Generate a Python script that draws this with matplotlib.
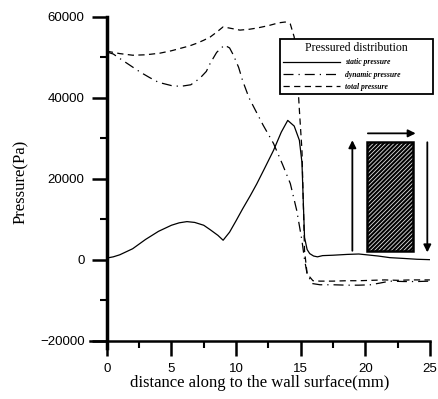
import matplotlib.pyplot as plt
from matplotlib.patches import Rectangle

# static pressure
static_x = [0, 0.5, 1.0, 2.0, 3.0, 4.0, 5.0, 5.6, 6.2, 6.8, 7.5, 8.0, 8.6, 9.0, 9.5,
            10.0, 10.5, 11.1, 11.6, 12.2, 12.9, 13.5, 14.0, 14.5, 14.9, 15.1, 15.2,
            15.3, 15.5, 15.7, 16.0, 16.3, 16.7, 17.5, 18.6, 19.5, 20.1, 21.0, 21.9,
            23.0, 24.0, 25.0]
static_y = [400, 700, 1200, 2700, 5000, 7000, 8500, 9100, 9400, 9200, 8500, 7400,
            6000, 4800, 6800, 9600, 12500, 15800, 18700, 22500, 27000, 31500, 34400,
            33000, 29500, 24000, 14600, 5500, 2500, 1500, 900, 700, 1000, 1100, 1300,
            1400, 1200, 900, 500, 300, 100, 0]

# dynamic pressure
dyn_x = [0, 0.5, 1.0, 1.8, 2.6, 3.3, 4.0, 5.0, 5.7, 6.5, 7.2, 7.7, 8.0, 8.5, 9.1,
         9.5, 9.8, 10.2, 10.5, 11.0, 11.5, 12.1, 12.9, 13.6, 14.2, 14.7, 15.1, 15.3,
         15.5, 15.9, 16.5, 17.5, 18.6, 19.5, 20.4, 21.1, 21.9, 23.0, 24.0, 25.0]
dyn_y = [51300, 50800, 49700, 48000, 46300, 45000, 43800, 43000, 42800, 43200, 44800,
         46500, 48500, 51200, 53000, 52300, 50500, 47500, 44300, 40000, 36900, 33200,
         28700, 23500, 18800, 12100, 4700, 0, -3500, -5900, -6200, -6200, -6300, -6300,
         -6200, -5800, -5300, -5400, -5400, -5300]

# total pressure
tot_x = [0, 0.5, 1.0, 2.0, 3.0, 4.1, 5.0, 5.7, 6.4, 7.0, 7.5, 8.0, 8.5, 9.0, 9.5,
         10.3, 11.0, 11.6, 12.5, 13.3, 13.8, 14.2, 14.5, 14.7, 14.9, 15.1, 15.2, 15.3,
         15.5, 15.95, 16.5, 17.5, 18.6, 19.5, 20.5, 21.5, 22.5, 23.5, 25.0]
tot_y = [51500, 51200, 50900, 50500, 50600, 51000, 51600, 52200, 52800, 53500, 54200,
         55000, 56200, 57500, 57200, 56700, 56900, 57200, 57800, 58500, 58700, 58200,
         55000, 48000, 37000, 27000, 14600, 2200, -3500, -5200, -5300, -5300, -5200,
         -5200, -5100, -5000, -5100, -5000, -5000]

labels = ['static pressure', 'dynamic pressure', 'total pressure']

# inset sketch: wall block and flow arrows
block = (20.1, 2200, 3.6, 26800)          # x, y, width, height
arrow_up = ((19.0, 2200), (19.0, 29500))
arrow_right = ((20.2, 31200), (23.9, 31200))
arrow_down = ((24.8, 29000), (24.8, 1800))

plt.rcParams['hatch.linewidth'] = 0.6

fig = plt.figure(figsize=(4.38, 3.99), dpi=100)
ax = fig.add_axes([0.2055, 0.128, 0.776, 0.83])

ax.plot(static_x, static_y, color='black', lw=0.9, label=labels[0])
ax.plot(dyn_x, dyn_y, color='black', lw=0.9, dashes=(8, 4, 1, 4), label=labels[1])
ax.plot(tot_x, tot_y, color='black', lw=0.9, dashes=(5, 3.5), label=labels[2])

ax.add_patch(Rectangle(block[:2], block[2], block[3], facecolor='black',
                       edgecolor='#e0e0e0', hatch='////////', lw=0))
ax.add_patch(Rectangle(block[:2], block[2], block[3], fill=False,
                       edgecolor='black', lw=1.8))
for (x0, y0), (x1, y1) in (arrow_up, arrow_right, arrow_down):
    ax.annotate('', xy=(x1, y1), xytext=(x0, y0),
                arrowprops=dict(arrowstyle='-|>', color='black', lw=1.3,
                                mutation_scale=11, shrinkA=0, shrinkB=0))

ax.set_xlim(-1.3, 25)
ax.set_ylim(-21800, 60000)
ax.spines['top'].set_visible(False)
ax.spines['right'].set_visible(False)
ax.spines['left'].set_position(('data', 0))
ax.spines['bottom'].set_position(('data', -20000))
ax.spines['left'].set_linewidth(2.5)
ax.spines['bottom'].set_linewidth(1.8)

ax.set_xticks([0, 5, 10, 15, 20, 25])
ax.set_xticks([2.5, 7.5, 12.5, 17.5, 22.5], minor=True)
ax.set_yticks([-20000, 0, 20000, 40000, 60000])
ax.set_yticks([-10000, 10000, 30000, 50000], minor=True)
ax.tick_params(which='major', direction='out', length=11, width=1.8, pad=5,
               labelsize=9.5)
ax.tick_params(which='minor', direction='out', length=5, width=1.5)
for t in ax.get_xticklabels() + ax.get_yticklabels():
    t.set_fontfamily('Liberation Sans')

ax.set_xlabel('distance along to the wall surface(mm)', family='Liberation Serif',
              fontsize=12, labelpad=0)
ax.set_ylabel('Pressure(Pa)', family='Liberation Serif', fontsize=12, labelpad=8)

leg = ax.legend(loc='upper left', bbox_to_anchor=(0.639, 0.744, 0.350, 0.158),
                bbox_transform=fig.transFigure, mode='expand', borderaxespad=0,
                title='Pressured distribution', fancybox=False, framealpha=1,
                handlelength=7.5, handletextpad=0.6, labelspacing=0.55,
                prop=dict(family='Liberation Serif', style='italic', size=5.5,
                          weight='bold'))
leg.get_title().set_fontfamily('Liberation Serif')
leg.get_title().set_fontsize(8.5)
leg.get_frame().set_edgecolor('black')
leg.get_frame().set_linewidth(1.3)

fig.savefig('out.png', dpi=100)
